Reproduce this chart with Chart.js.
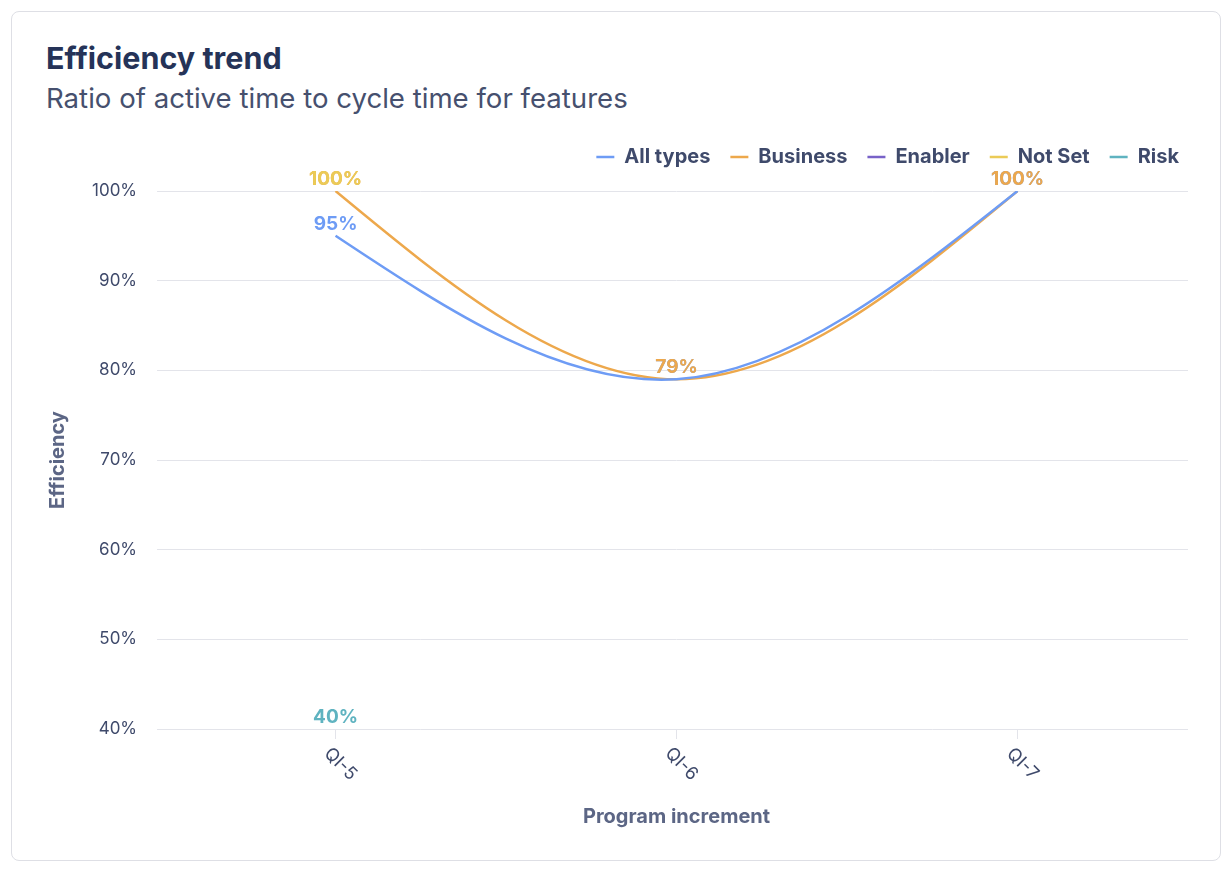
<!DOCTYPE html>
<html>
<head>
<meta charset="utf-8">
<script src="https://cdn.jsdelivr.net/npm/chart.js@4.4.1/dist/chart.umd.min.js"></script>
<style>
  html, body { margin: 0; padding: 0; background: #fff; font-family: Inter, "Noto Sans", sans-serif; }
  .card {
    position: absolute; left: 11px; top: 11px; width: 1208px; height: 848px;
    border: 1.5px solid #dedfe5; border-radius: 8px; background: #fff;
  }
  .card h1 { position: absolute; left: 34px; top: 27px; margin: 0; font-size: 30.5px; font-weight: 700; color: #253358; }
  .card p { position: absolute; left: 34px; top: 69px; margin: 0; font-size: 27.6px; color: #46506e; }
  .wrap { position: absolute; left: 10px; top: 115px; width: 1190px; height: 706px; }
</style>
</head>
<body>
<div class="card">
  <h1>Efficiency trend</h1>
  <p>Ratio of active time to cycle time for features</p>
  <div class="wrap"><canvas id="chart"></canvas></div>
</div>
<script>
const increments = ['QI-5', 'QI-6', 'QI-7'];
const allTypes = [95, 79, 100];
const business = [100, 79, 100];
const enabler = [null, null, null];
const notSet = [100, null, null];
const risk = [40, null, null];
const yTicks = [40, 50, 60, 70, 80, 90, 100];

const textColor = '#3f4a6b';
const gridColor = '#e3e4ea';

// room under the legend, and push it a bit to the right edge
const legendGap = {
  id: 'legendGap',
  beforeInit(chart) {
    const fit = chart.legend.fit;
    chart.legend.fit = function() {
      fit.bind(chart.legend)();
      this.height += 14;
    };
  },
  afterLayout(chart) {
    chart.legend.left += 11;
    chart.legend.right += 11;
  }
};

// natural cubic spline through the points chart.js placed
function naturalSlopes(pts) {
  const n = pts.length;
  const h = [], d = [];
  for (let i = 0; i < n - 1; i++) {
    h.push(pts[i + 1].x - pts[i].x);
    d.push((pts[i + 1].y - pts[i].y) / h[i]);
  }
  const M = new Array(n).fill(0);
  if (n > 2) {
    const a = [], b = [], c = [], r = [];
    for (let i = 1; i < n - 1; i++) {
      a.push(h[i - 1]);
      b.push(2 * (h[i - 1] + h[i]));
      c.push(h[i]);
      r.push(6 * (d[i] - d[i - 1]));
    }
    const m = b.length;
    for (let i = 1; i < m; i++) {
      const w = a[i] / b[i - 1];
      b[i] -= w * c[i - 1];
      r[i] -= w * r[i - 1];
    }
    M[m] = r[m - 1] / b[m - 1];
    for (let i = m - 2; i >= 0; i--) {
      M[i + 1] = (r[i] - c[i] * M[i + 2]) / b[i];
    }
  }
  const s = [];
  for (let i = 0; i < n - 1; i++) s.push(d[i] - h[i] * (2 * M[i] + M[i + 1]) / 6);
  s.push(d[n - 2] + h[n - 2] * (M[n - 2] + 2 * M[n - 1]) / 6);
  return s;
}

const naturalCurve = {
  id: 'naturalCurve',
  beforeDatasetsDraw(chart) {
    chart.data.datasets.forEach((ds, i) => {
      const meta = chart.getDatasetMeta(i);
      meta.dataset.updateControlPoints(chart.chartArea, 'x');
      const pts = meta.data.filter((p, j) => ds.data[j] != null);
      if (pts.length < 2) return;
      const s = naturalSlopes(pts);
      pts.forEach((p, j) => {
        if (j > 0) {
          const dx = (p.x - pts[j - 1].x) / 3;
          p.cp1x = p.x - dx;
          p.cp1y = p.y - s[j] * dx;
        }
        if (j < pts.length - 1) {
          const dx = (pts[j + 1].x - p.x) / 3;
          p.cp2x = p.x + dx;
          p.cp2y = p.y + s[j] * dx;
        }
      });
    });
  }
};

const pointLabels = {
  id: 'pointLabels',
  afterDatasetsDraw(chart) {
    const ctx = chart.ctx;
    ctx.save();
    ctx.font = 'bold 19px Inter';
    ctx.textAlign = 'center';
    ctx.textBaseline = 'middle';
    chart.data.datasets.forEach((ds, i) => {
      const meta = chart.getDatasetMeta(i);
      meta.data.forEach((pt, j) => {
        const v = ds.data[j];
        if (v == null) return;
        ctx.fillStyle = ds.borderColor;
        ctx.fillText(v + '%', pt.x, pt.y - 12);
      });
    });
    ctx.restore();
  }
};

const slantedTicks = {
  id: 'slantedTicks',
  afterDraw(chart) {
    const ctx = chart.ctx;
    const x = chart.scales.x;
    ctx.save();
    ctx.font = '18px Inter';
    ctx.fillStyle = textColor;
    ctx.textAlign = 'center';
    ctx.textBaseline = 'middle';
    increments.forEach((label, i) => {
      const px = x.getPixelForTick(i);
      ctx.save();
      ctx.translate(px + 5, chart.chartArea.bottom + 35);
      ctx.rotate(Math.PI / 4);
      ctx.fillText(label, 0, 0);
      ctx.restore();
    });
    ctx.restore();
  }
};

function line(label, data, color) {
  return {
    label: label,
    data: data,
    borderColor: color,
    backgroundColor: color,
    borderWidth: 2.5,
    pointRadius: 0,
    pointHoverRadius: 0,
    tension: 0.4
  };
}

new Chart(document.getElementById('chart'), {
  type: 'line',
  data: {
    labels: increments,
    datasets: [
      line('All types', allTypes, '#6e9cf5'),
      line('Business', business, '#eda84c'),
      line('Enabler', enabler, '#7862c8'),
      line('Not Set', notSet, '#ebcb57'),
      line('Risk', risk, '#5fb3c0')
    ]
  },
  options: {
    responsive: true,
    maintainAspectRatio: false,
    animation: false,
    layout: { padding: { left: 20, right: 24, bottom: 0 } },
    plugins: {
      tooltip: { enabled: false },
      legend: {
        position: 'top',
        align: 'end',
        labels: {
          usePointStyle: true,
          pointStyle: 'line',
          pointStyleWidth: 18,
          boxWidth: 18,
          color: textColor,
          font: { family: 'Inter', size: 20, weight: 'bold' },
          padding: 20
        }
      }
    },
    scales: {
      x: {
        offset: true,
        grid: { display: true, drawOnChartArea: false, drawTicks: true, tickLength: 10, color: gridColor },
        border: { display: false },
        ticks: { display: false },
        title: {
          display: true,
          text: 'Program increment',
          color: '#5c6685',
          font: { family: 'Inter', size: 20, weight: 'bold' },
          padding: { top: 66, bottom: 4 }
        }
      },
      y: {
        min: 40,
        max: 100,
        afterBuildTicks(axis) { axis.ticks = yTicks.map(v => ({ value: v })); },
        grid: { color: gridColor, tickLength: 8 },
        border: { display: false },
        ticks: {
          color: textColor,
          padding: 20,
          font: { family: 'Inter', size: 17 },
          callback: v => v + '%'
        },
        title: {
          display: true,
          text: 'Efficiency',
          color: '#5c6685',
          font: { family: 'Inter', size: 20, weight: 'bold' },
          padding: { bottom: 2 }
        }
      }
    }
  },
  plugins: [legendGap, naturalCurve, pointLabels, slantedTicks]
});
</script>
</body>
</html>
